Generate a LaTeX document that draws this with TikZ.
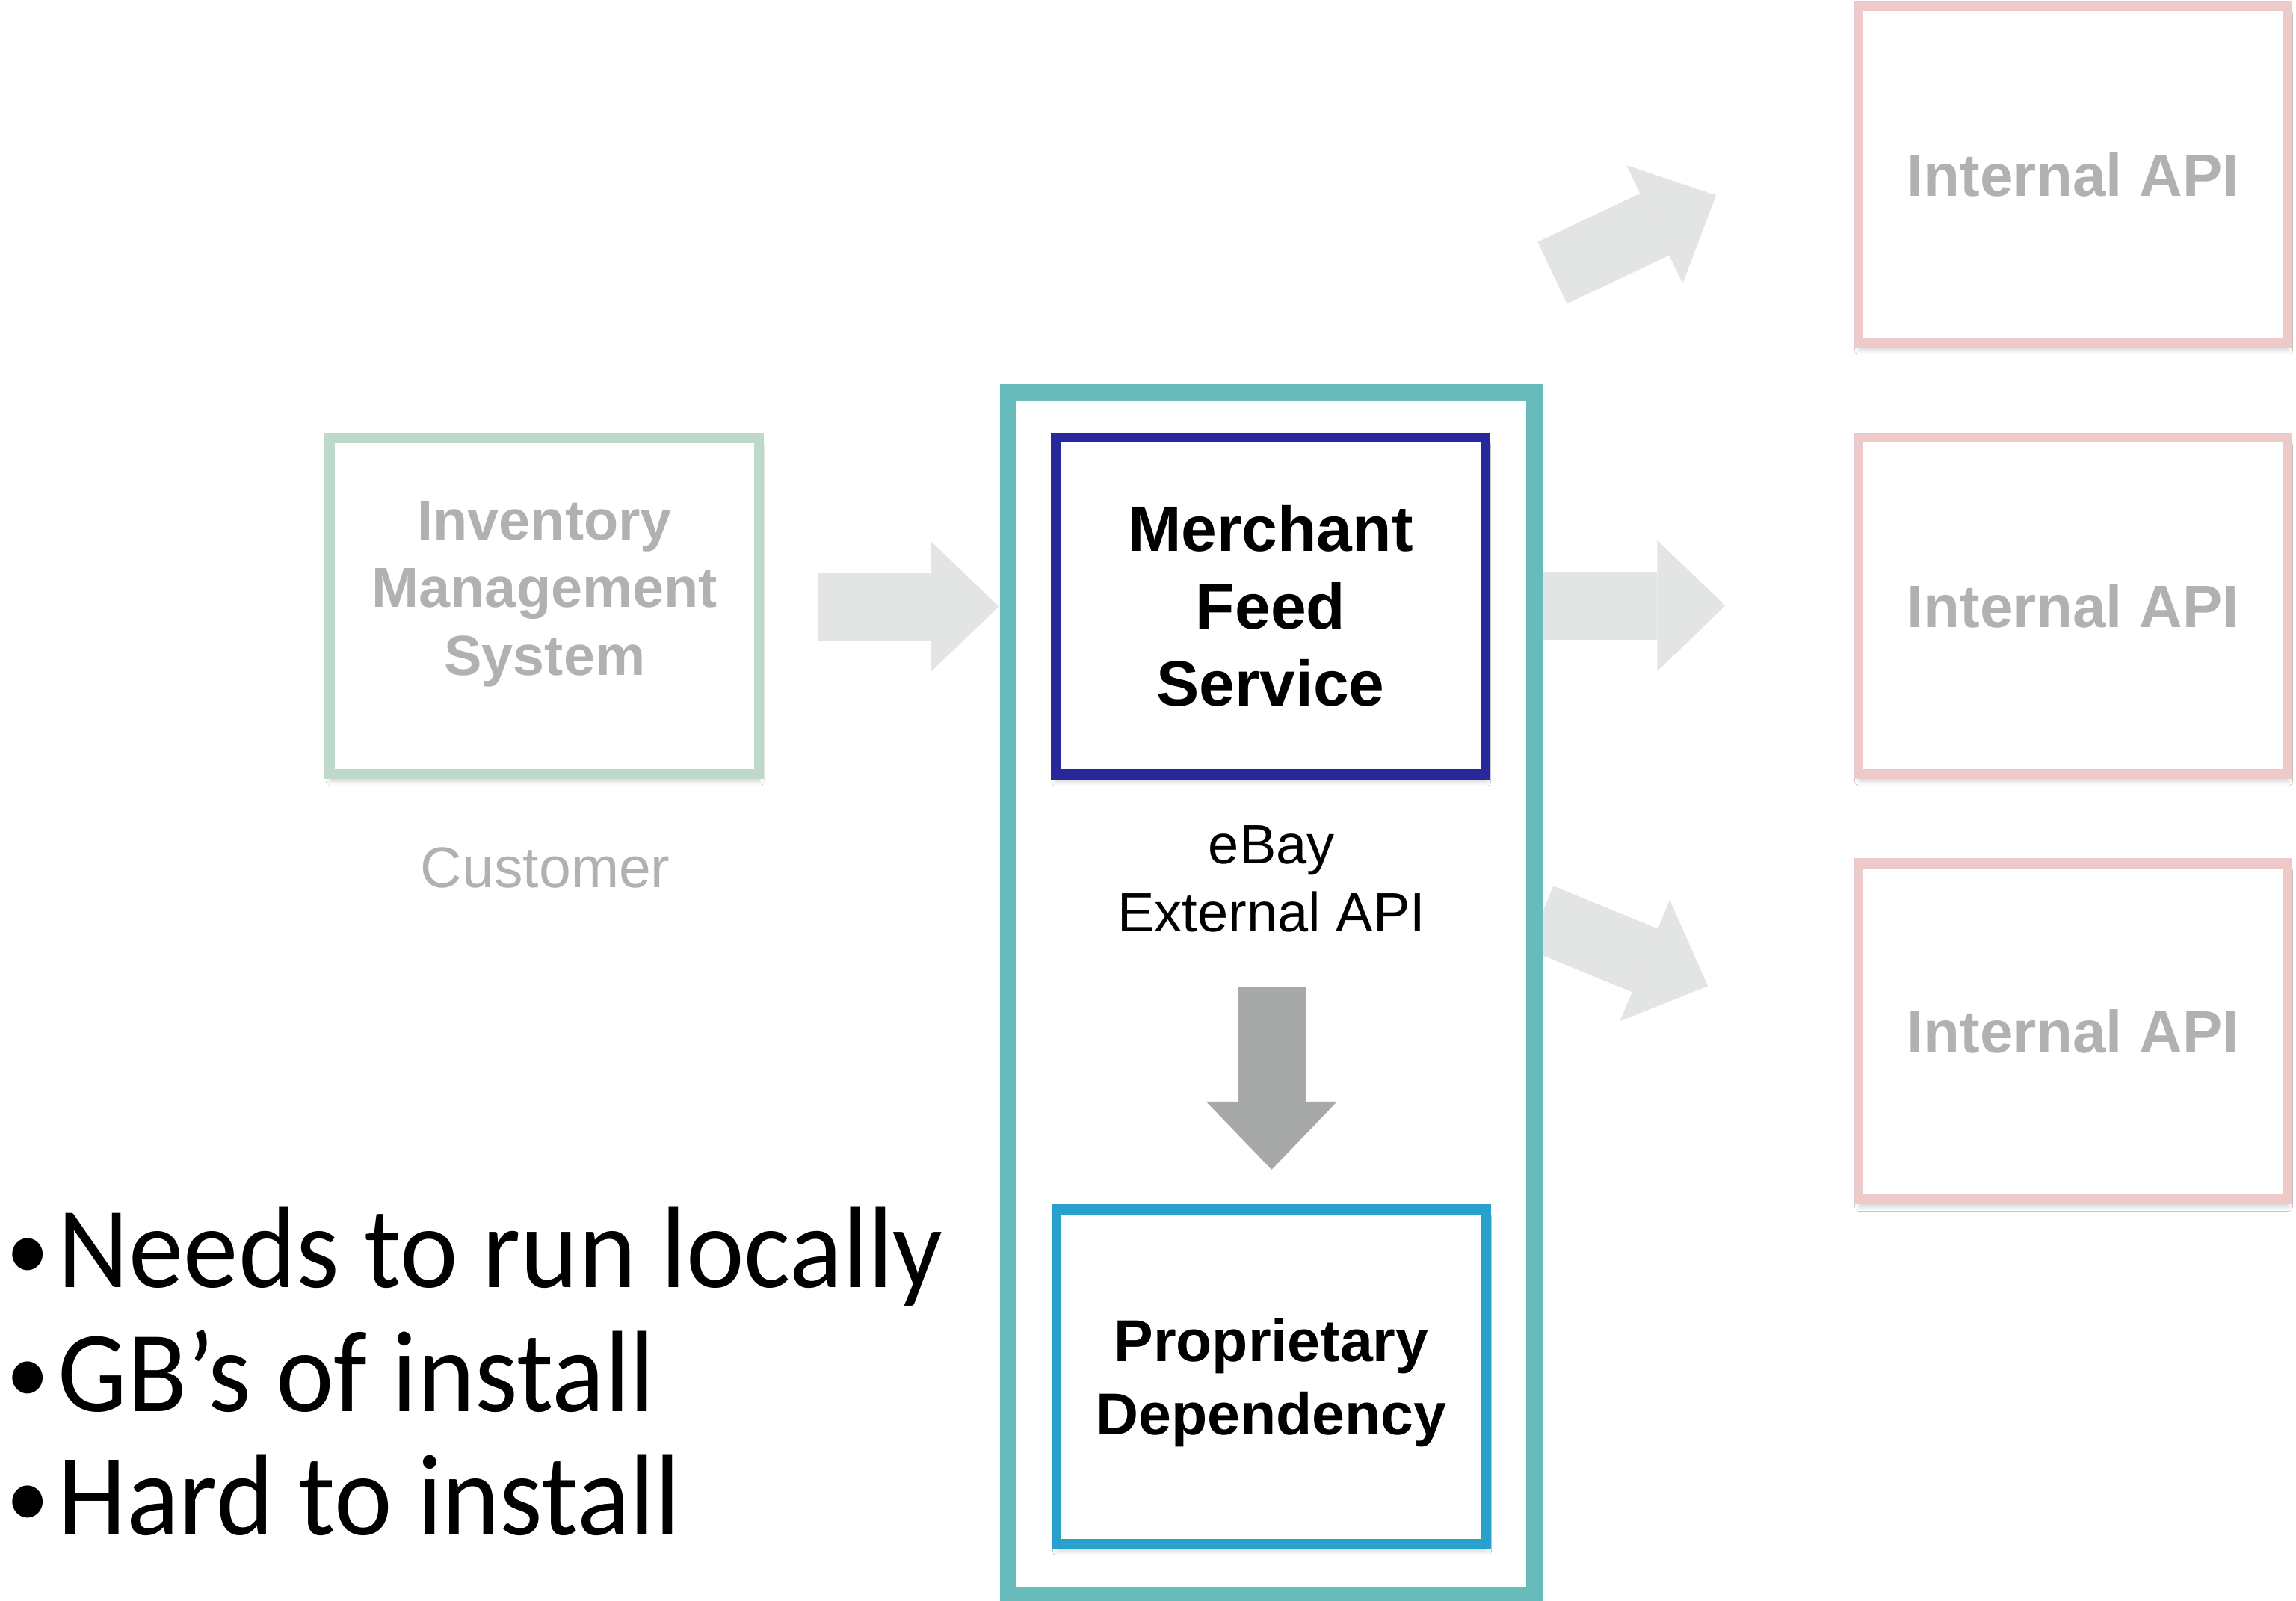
\documentclass[tikz,border=0pt]{standalone}
\usepackage{fontspec}
\setmainfont{Liberation Sans}
\newfontfamily\listfont[FakeStretch=0.95]{Carlito}
\usetikzlibrary{arrows.meta,shadows.blur}

\definecolor{frameteal}{HTML}{67BBBA}
\definecolor{mfsblue}{HTML}{28279C}
\definecolor{depblue}{HTML}{2AA0CC}
\definecolor{invgreen}{HTML}{BFD8CC}
\definecolor{apipink}{HTML}{EDC9C9}
\definecolor{fadedtext}{HTML}{B1B1B1}
\definecolor{flowgray}{HTML}{E3E4E4}
\definecolor{callgray}{HTML}{A6A9A8}

% raised list bullet
\newcommand{\listdot}{\makebox[35.5pt][l]{\raisebox{5.2pt}{\fontsize{62pt}{62pt}\selectfont •}}}

\tikzset{
  box/.style={draw, fill=white, line width=6.8pt, inner sep=0pt, outer sep=0pt,
    minimum width=293pt, minimum height=229.5pt, align=center,
    blur shadow={shadow xshift=0.5pt, shadow yshift=-5pt, shadow blur radius=3pt, shadow opacity=18}},
  flow/.style={draw=flowgray, line width=46.7pt,
    -{Triangle[length=46.4pt, width=89.4pt, line width=0pt]}},
  call/.style={flow, draw=callgray},
  listline/.style={anchor=base west, inner sep=0pt,
    font=\listfont\fontsize{79pt}{84pt}\selectfont},
}

\begin{document}
\begin{tikzpicture}[x=1pt, y=-1pt]
  % page
  \fill[white] (0,0) rectangle (1568,1093);
  \path[use as bounding box] (0,0) rectangle (1568,1093);

  % end points of the block arrows
  \coordinate (inOut)  at (558.3,414.2);
  \coordinate (inIn)   at (682.0,414.2);
  \coordinate (upOut)  at (1060.1,186.3);
  \coordinate (upIn)   at (1171.9,133.4);
  \coordinate (midOut) at (1050.0,413.6);
  \coordinate (midIn)  at (1178.2,413.6);
  \coordinate (lowOut) at (1051.9,626.6);
  \coordinate (lowIn)  at (1166.3,673.4);
  \coordinate (callOut) at (868.4,674.3);
  \coordinate (callIn)  at (868.4,798.7);

  % data flow arrows (drawn first so the service frame covers their tails)
  \draw[flow] (inOut) -- (inIn);
  \draw[flow] (upOut) -- (upIn);
  \draw[flow] (midOut) -- (midIn);
  \draw[flow] (lowOut) -- (lowIn);

  % the service boundary
  \node[draw=frameteal, line width=11.2pt, inner sep=0pt, outer sep=0pt,
        minimum width=359.2pt, minimum height=820.8pt] (svc) at (868.3,678.6) {};

  % customer side
  \node[box, draw=invgreen] (inv) at (371.65,413.85) {};
  \node[text=fadedtext, align=center, inner sep=0pt,
        font=\fontsize{38.6pt}{46.15pt}\selectfont\bfseries] (invtext) at (372,405.65)
        {Inventory\\Management\\System};
  \node[text=fadedtext, inner sep=0pt, font=\fontsize{39.3pt}{46pt}\selectfont]
        (cust) at (372.5,592.8) {Customer};

  % merchant feed service and its dependency
  \node[box, draw=mfsblue, minimum width=293.6pt, minimum height=230.1pt,
        font=\fontsize{43.8pt}{52.9pt}\selectfont\bfseries]
        (mfs) at (867.7,413.75) {Merchant\\Feed\\Service};
  \node[align=center, inner sep=0pt, font=\fontsize{37.8pt}{46.4pt}\selectfont]
        (ebay) at (868.4,600.05) {eBay\\External API};
  \node[box, draw=depblue, minimum width=293.6pt, minimum height=228.3pt, text depth=0pt,
        font=\fontsize{40.3pt}{49.9pt}\selectfont\bfseries]
        (dep) at (868.2,939.95) {Proprietary\\Dependency};
  \draw[call] (callOut) -- (callIn);

  % internal APIs
  \node[box, draw=apipink, text=fadedtext, font=\fontsize{40.8pt}{49pt}\selectfont\bfseries]
        (api1) at (1415.65,119.15) {Internal API};
  \node[box, draw=apipink, text=fadedtext, font=\fontsize{40.8pt}{49pt}\selectfont\bfseries]
        (api2) at (1415.65,413.7) {Internal API};
  \node[box, draw=apipink, text=fadedtext, font=\fontsize{40.8pt}{49pt}\selectfont\bfseries]
        (api3) at (1415.65,704.35) {Internal API};

  % bullet list
  \node[listline] (need)  at (4,879.3)  {\listdot Needs to run locally};
  \node[listline] (size)  at (4,963.7)  {\listdot GB’s of install};
  \node[listline] (setup) at (4,1048.0) {\listdot Hard to install};
\end{tikzpicture}
\end{document}
